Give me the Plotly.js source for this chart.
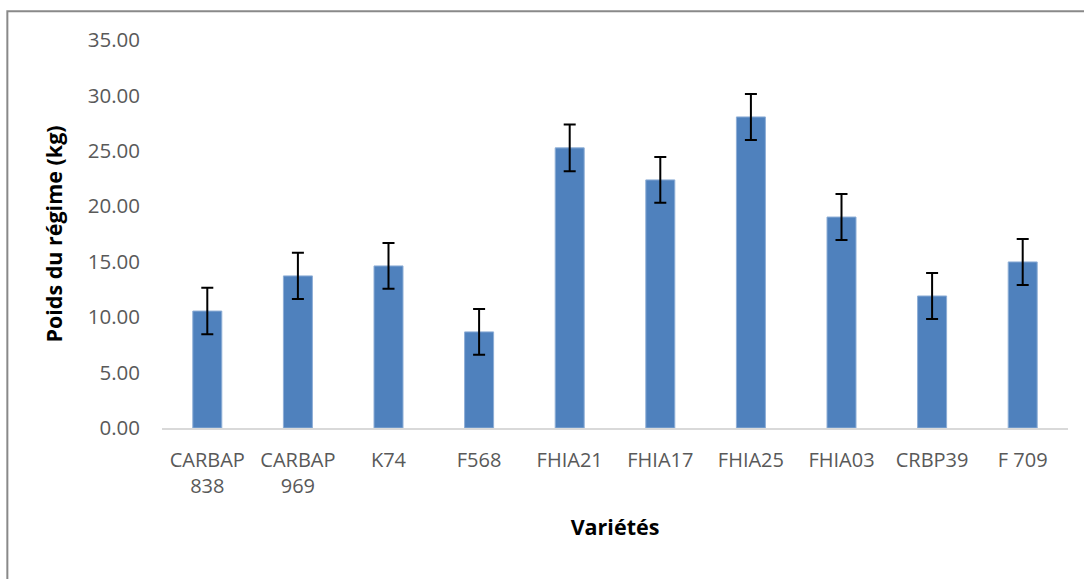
<!DOCTYPE html>
<html>
<head>
<meta charset="utf-8">
<script src="https://cdn.plot.ly/plotly-3.0.1.min.js"></script>
<style>html,body{margin:0;padding:0;background:#fff;}#chart{width:1084px;height:579px;}</style>
</head>
<body>
<div id="chart"></div>
<script>
const categories = ["CARBAP<br>838", "CARBAP<br>969", "K74", "F568", "FHIA21", "FHIA17", "FHIA25", "FHIA03", "CRBP39", "F 709"];
const values = [10.55, 13.72, 14.62, 8.67, 25.27, 22.38, 28.06, 19.03, 11.91, 14.98];
const errors = [2.1, 2.08, 2.07, 2.07, 2.1, 2.07, 2.07, 2.07, 2.07, 2.07];
const yTicks = [0, 5, 10, 15, 20, 25, 30, 35];
const yTickLabels = ["0.00", "5.00", "10.00", "15.00", "20.00", "25.00", "30.00", "35.00"];

const font = "Open Sans, Liberation Sans, sans-serif";
const trace = {
  type: "bar",
  x: categories,
  y: values,
  marker: {color: "#4F81BD", line: {color: "#8EAED6", width: 1}},
  error_y: {type: "data", array: errors, visible: true, color: "#000000", thickness: 2, width: 6},
  hoverinfo: "none"
};
const layout = {
  width: 1084, height: 579,
  margin: {l: 162, r: 16, t: 40, b: 151},
  paper_bgcolor: "#ffffff", plot_bgcolor: "#ffffff",
  bargap: 0.68,
  showlegend: false,
  font: {family: font, color: "#595959", size: 20},
  xaxis: {
    type: "category",
    showgrid: false, showline: true, linecolor: "#D9D9D9", linewidth: 2,
    ticks: "", tickfont: {family: font, size: 20, color: "#595959"},
    ticklabelstandoff: 13,
    title: {text: "Variétés", font: {family: font, size: 21.5, color: "#000000", weight: "bold"}, standoff: 22}
  },
  yaxis: {
    range: [0, 35], showgrid: false, zeroline: false, showline: false,
    tickvals: yTicks, ticktext: yTickLabels, ticks: "",
    tickfont: {family: font, size: 20.5, color: "#595959"},
    ticklabelstandoff: 21,
    title: {text: "Poids du régime (kg)", font: {family: font, size: 21.5, color: "#000000", weight: "bold"}, standoff: 19}
  },
  shapes: [{type: "rect", xref: "paper", yref: "paper", x0: -0.1707, x1: 1.05, y0: 1.074, y1: -0.4, line: {color: "#898989", width: 2}, fillcolor: "rgba(0,0,0,0)", layer: "below"}]
};
Plotly.newPlot("chart", [trace], layout, {displayModeBar: false, staticPlot: true});
</script>
</body>
</html>
